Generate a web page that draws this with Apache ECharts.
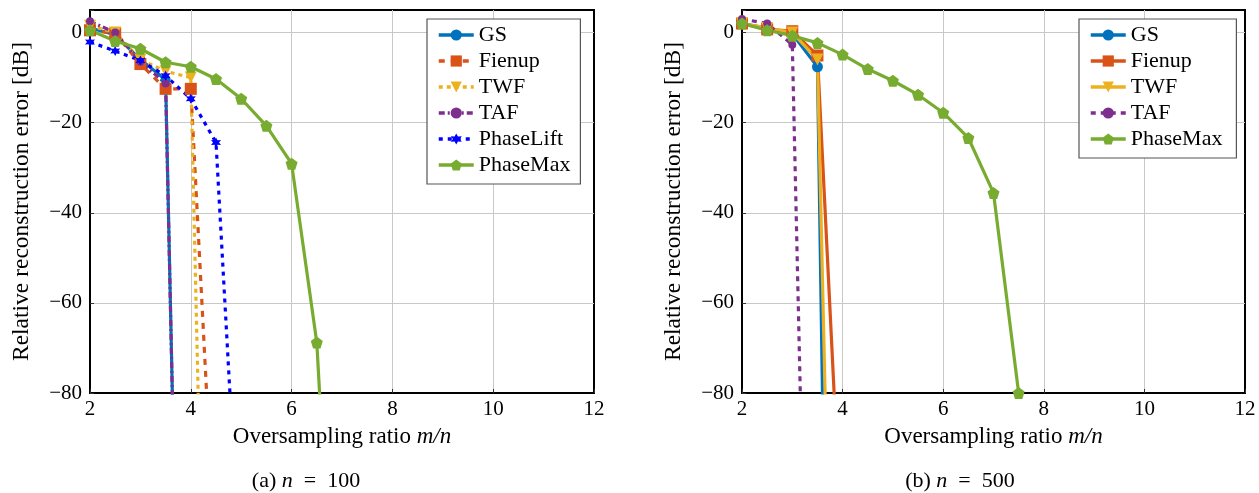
<!DOCTYPE html>
<html>
<head>
<meta charset="utf-8">
<script src="https://cdn.jsdelivr.net/npm/echarts@6/dist/echarts.min.js"></script>
<style>html,body{margin:0;padding:0;background:#fff}#c{width:1259px;height:493px}</style>
</head>
<body>
<div id="c"></div>
<script>
// ---- data: panel (a) n = 100 ----
const aGS_x = [2, 2.5, 3, 3.5, 4];
const aGS_y = [1, -0.5, -6, -10.5, -270];
const aFienup_x = [2, 2.5, 3, 3.5, 4, 4.5];
const aFienup_y = [0.5, -0.2, -7, -12.5, -12.5, -120];
const aTWF_x = [2, 2.5, 3, 3.5, 4, 4.5];
const aTWF_y = [1.5, 0, -6, -8.6, -10, -250];
const aTAF_x = [2, 2.5, 3, 3.5, 4];
const aTAF_y = [2.5, 0, -6.5, -11.3, -270];
const aPL_x = [2, 2.5, 3, 3.5, 4, 4.5, 5];
const aPL_y = [-2.1, -4.1, -6.2, -9.6, -14.7, -24.4, -125];
const aPM_x = [2, 2.5, 3, 3.5, 4, 4.5, 5, 5.5, 6, 6.5, 7];
const aPM_y = [0.5, -1.9, -3.6, -6.6, -7.6, -10.3, -14.7, -20.7, -29.1, -68.8, -170];
// ---- data: panel (b) n = 500 ----
const bGS_x = [2, 2.5, 3, 3.5, 4];
const bGS_y = [2, 1, -0.3, -7.6, -370];
const bFienup_x = [2, 2.5, 3, 3.5, 4];
const bFienup_y = [2, 0.7, 0.3, -5.1, -118];
const bTWF_x = [2, 2.5, 3, 3.5, 4];
const bTWF_y = [2, 1, 0, -6, -250];
const bTAF_x = [2, 2.5, 3, 3.5];
const bTAF_y = [3, 2, -2.7, -246];
const bPM_x = [2, 2.5, 3, 3.5, 4, 4.5, 5, 5.5, 6, 6.5, 7, 7.5];
const bPM_y = [2, 0.5, -0.7, -2.3, -4.9, -8.1, -10.7, -13.8, -17.8, -23.4, -35.6, -80];
// ---- axes ----
const xTicks = [2, 4, 6, 8, 10, 12];
const yTicks = [-80, -60, -40, -20, 0];
const namesA = ['GS', 'Fienup', 'TWF', 'TAF', 'PhaseLift', 'PhaseMax'];
const namesB = ['GS', 'Fienup', 'TWF', 'TAF', 'PhaseMax'];

const FONT = 'Liberation Serif';
const C = {GS:'#0072BD', Fienup:'#D95319', TWF:'#EDB120', TAF:'#7E2F8E', PhaseLift:'#0000FF', PhaseMax:'#77AC30'};
const PENT = 'path://M0,-10 L9.51,-3.09 L5.88,8.09 L-5.88,8.09 L-9.51,-3.09 Z';
const STAR = 'path://M0,-10 L2.6,-4.5 L8.7,-5 L5.2,0 L8.7,5 L2.6,4.5 L0,10 L-2.6,4.5 L-8.7,5 L-5.2,0 L-8.7,-5 L-2.6,-4.5 Z';
const zip = (xs, ys) => xs.map((x, i) => [x, ys[i]]);

function mkSeries(name, idx, xs, ys, color, dash, symbol, size, rot) {
  return {
    type: 'line', name: name, xAxisIndex: idx, yAxisIndex: idx,
    data: zip(xs, ys), clip: true,
    symbol: symbol, symbolSize: size, symbolRotate: rot || 0,
    showAllSymbol: true,
    lineStyle: {color: color, width: 3.2, type: dash, cap: 'butt'},
    itemStyle: {color: color},
    emphasis: {disabled: true}
  };
}

const splitCommon = {show: true, showMinLine: false, showMaxLine: false, lineStyle: {color: '#c8c8c8', width: 1}};

function xAxis(idx) {
  return {
    type: 'value', gridIndex: idx, min: 2, max: 12, interval: 2,
    name: '{n|Oversampling ratio }{i|m/n}', nameLocation: 'middle', nameGap: 32,
    nameTextStyle: {fontFamily: FONT, fontSize: 23, color: '#000',
      rich: {n: {fontFamily: FONT, fontSize: 23, color: '#000'}, i: {fontFamily: FONT, fontSize: 23, fontStyle: 'italic', color: '#000'}}},
    axisLine: {show: true, onZero: false, lineStyle: {color: '#000', width: 2}},
    axisTick: {show: true, inside: true, length: 4, lineStyle: {color: '#333'}},
    axisLabel: {fontFamily: FONT, fontSize: 21, color: '#000', margin: 6},
    splitLine: splitCommon
  };
}
function yAxis(idx) {
  return {
    type: 'value', gridIndex: idx, min: -80, max: 5, interval: 20,
    name: 'Relative reconstruction error [dB]', nameLocation: 'middle', nameGap: 56,
    nameTextStyle: {fontFamily: FONT, fontSize: 23.5, color: '#000'},
    axisLine: {show: true, onZero: false, lineStyle: {color: '#000', width: 2}},
    axisTick: {show: true, inside: true, length: 4, lineStyle: {color: '#333'}},
    axisLabel: {fontFamily: FONT, fontSize: 21, color: '#000', margin: 8,
      formatter: v => (yTicks.indexOf(v) >= 0 ? String(v).replace('-', '\u2212') : '')},
    splitLine: splitCommon
  };
}
function legend(left, top, names, padRight) {
  return {
    left: left, top: top, orient: 'vertical',
    data: names, itemWidth: 35, itemHeight: 14, itemGap: 4,
    backgroundColor: '#fff', borderColor: '#555', borderWidth: 1.2,
    padding: [5, padRight, 8, 10], borderRadius: 0,
    lineStyle: {width: 3.5},
    textStyle: {fontFamily: FONT, fontSize: 22, color: '#000'},
    formatter: n => n.replace('_b', ''),
    selectedMode: false
  };
}

const series = [
  mkSeries('GS', 0, aGS_x, aGS_y, C.GS, 'solid', 'circle', 10),
  mkSeries('Fienup', 0, aFienup_x, aFienup_y, C.Fienup, [6, 6], 'rect', 12),
  mkSeries('TWF', 0, aTWF_x, aTWF_y, C.TWF, [4, 4], 'triangle', 12, 180),
  mkSeries('TAF', 0, aTAF_x, aTAF_y, C.TAF, [6, 3, 2, 3], 'circle', 8),
  mkSeries('PhaseLift', 0, aPL_x, aPL_y, C.PhaseLift, [4, 5], STAR, 10),
  mkSeries('PhaseMax', 0, aPM_x, aPM_y, C.PhaseMax, 'solid', PENT, 12),
  mkSeries('GS_b', 1, bGS_x, bGS_y, C.GS, 'solid', 'circle', 11),
  mkSeries('Fienup_b', 1, bFienup_x, bFienup_y, C.Fienup, 'solid', 'rect', 12),
  mkSeries('TWF_b', 1, bTWF_x, bTWF_y, C.TWF, 'solid', 'triangle', 12, 180),
  mkSeries('TAF_b', 1, bTAF_x, bTAF_y, C.TAF, [5, 5], 'circle', 8),
  mkSeries('PhaseMax_b', 1, bPM_x, bPM_y, C.PhaseMax, 'solid', PENT, 12)
];

const capStyle = {fontFamily: FONT, fontSize: 22, fontWeight: 'normal', color: '#000',
  rich: {i: {fontFamily: FONT, fontSize: 22, fontStyle: 'italic', color: '#000'}}};

const chart = echarts.init(document.getElementById('c'), null, {renderer: 'canvas'});
chart.setOption({
  animation: false,
  backgroundColor: '#fff',
  grid: [
    {left: 90, right: 665, top: 10, bottom: 100, show: true, borderColor: '#000', borderWidth: 2, containLabel: false},
    {left: 742, right: 14, top: 10, bottom: 100, show: true, borderColor: '#000', borderWidth: 2, containLabel: false}
  ],
  xAxis: [xAxis(0), xAxis(1)],
  yAxis: [yAxis(0), yAxis(1)],
  legend: [legend(427, 19, namesA, 10), legend(1079, 19, namesB.map(n => n + '_b'), 14)],
  title: [
    {text: '(a) {i|n}\u2002=\u2002100', left: 306, top: 470, textAlign: 'center', padding: 0, textStyle: capStyle},
    {text: '(b) {i|n}\u2002=\u2002500', left: 960, top: 470, textAlign: 'center', padding: 0, textStyle: capStyle}
  ],
  series: series
});
</script>
</body>
</html>
